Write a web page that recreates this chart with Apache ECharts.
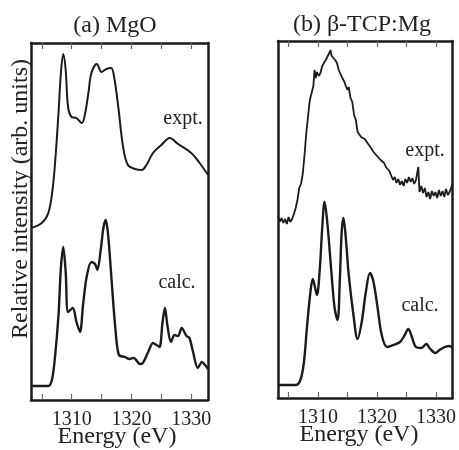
<!DOCTYPE html>
<html><head><meta charset="utf-8">
<script src="https://cdn.jsdelivr.net/npm/echarts@6/dist/echarts.min.js"></script>
<style>html,body{margin:0;padding:0;background:#fff}#c{width:459px;height:450px}</style>
</head><body><div id="c"></div>
<script>
// Energy axis (eV)
const energyMin = 1303.2;
const energyMax = 1332.8;
const tickValues = [1305, 1310, 1315, 1320, 1325, 1330];
const tickLabels = [1310, 1320, 1330];
const panelTitles = ['(a) MgO', '(b) \u03b2-TCP:Mg'];
const curveLabels = ['expt.', 'calc.'];

// (a) MgO experimental spectrum [energy, intensity (arb.)]
const mgoExpt = [
  [1303.2,172],[1305.0,177],[1306.1,187],[1306.8,210],[1307.3,243],[1307.8,287],[1308.2,327],
  [1308.6,346],[1309.0,330],[1309.4,293],[1310.0,283],[1310.8,282],[1311.7,277],[1312.2,285],
  [1312.8,307],[1313.3,327],[1314.2,336],[1315.0,328],[1315.8,331],[1316.6,332],[1317.1,323],
  [1317.8,293],[1318.6,253],[1319.4,235],[1320.6,231],[1321.7,230],[1322.5,235],[1323.6,247],
  [1325.0,255],[1326.4,262],[1327.8,256],[1330.0,247],[1331.4,237],[1332.8,225]
];
// (a) MgO calculated spectrum
const mgoCalc = [
  [1303.2,14],[1306.1,14],[1306.7,20],[1307.2,42],[1307.8,85],[1308.2,132],[1308.6,153],
  [1309.0,128],[1309.4,88],[1310.2,92],[1310.8,78],[1311.4,68],[1311.9,95],[1312.5,123],
  [1313.3,138],[1313.9,136],[1314.3,130],[1314.9,152],[1315.3,172],[1315.7,180],[1316.1,165],
  [1316.7,118],[1317.3,72],[1317.9,45],[1318.9,43],[1319.7,41],[1320.4,42],[1321.4,36],
  [1321.9,37],[1322.8,48],[1323.6,57],[1324.2,55],[1324.7,53],[1325.2,78],[1325.6,92],
  [1326.0,75],[1326.6,58],[1327.2,65],[1327.8,64],[1328.4,72],[1329.2,64],[1329.7,62],
  [1330.3,48],[1331.1,32],[1331.8,38],[1332.3,35],[1332.8,31]
];
// (b) beta-TCP:Mg experimental spectrum (noisy)
const tcpExpt = [
  [1303.2,182],[1303.5,176],[1303.8,180],[1304.1,175],[1304.4,179],[1304.7,174],[1305.0,181],
  [1305.3,176],[1305.6,179],[1305.9,184],[1306.2,190],[1306.5,198],[1306.8,210],[1307.1,214],
  [1307.4,224],[1307.7,243],[1308.0,265],[1308.3,282],[1308.6,298],[1308.9,305],[1309.2,312],
  [1309.4,328],[1309.6,320],[1309.8,326],[1310.1,322],[1310.4,325],[1310.7,332],[1311.0,334],
  [1311.3,338],[1311.6,340],[1311.9,345],[1312.1,348],[1312.3,342],[1312.6,344],[1312.9,338],
  [1313.2,335],[1313.5,328],[1313.8,324],[1314.1,320],[1314.4,317],[1314.7,312],[1315.0,308],
  [1315.2,311],[1315.5,300],[1315.8,296],[1316.1,283],[1316.4,278],[1316.7,266],[1317.0,264],
  [1317.3,261],[1317.6,263],[1317.9,259],[1318.2,261],[1318.5,254],[1318.8,252],[1319.1,249],
  [1319.4,246],[1319.7,244],[1320.0,242],[1320.3,244],[1320.6,238],[1320.9,236],[1321.2,235],
  [1321.5,231],[1321.8,232],[1322.1,227],[1322.4,229],[1322.7,218],[1323.0,221],[1323.3,215],
  [1323.6,219],[1323.9,213],[1324.2,217],[1324.5,212],[1324.8,219],[1325.1,215],[1325.4,221],
  [1325.7,216],[1326.0,220],[1326.3,214],[1326.6,218],[1326.9,216],[1327.0,231],[1327.2,206],
  [1327.5,212],[1327.8,205],[1328.1,210],[1328.4,201],[1328.7,206],[1329.0,199],[1329.3,207],
  [1329.6,202],[1329.9,206],[1330.2,200],[1330.5,208],[1330.8,202],[1331.1,207],[1331.4,201],
  [1331.7,209],[1332.0,203],[1332.3,206],[1332.6,204],[1332.8,214]
];
// (b) beta-TCP:Mg calculated spectrum
const tcpCalc = [
  [1303.2,13],[1306.2,13],[1307.0,18],[1307.6,36],[1308.1,70],[1308.7,106],[1309.1,119],
  [1309.5,110],[1309.8,103],[1310.3,130],[1310.7,170],[1311.1,196],[1311.6,173],[1312.2,130],
  [1312.8,90],[1313.3,78],[1313.7,120],[1314.0,166],[1314.3,180],[1314.7,160],[1315.2,123],
  [1316.0,83],[1316.7,59],[1317.4,76],[1318.1,106],[1318.8,125],[1319.4,116],[1320.1,90],
  [1320.8,63],[1321.7,51],[1322.8,53],[1323.9,56],[1324.7,63],[1325.3,69],[1325.8,63],
  [1326.6,51],[1327.5,50],[1328.4,54],[1328.9,50],[1329.9,45],[1330.6,48],[1331.5,51],
  [1332.3,52],[1332.8,50]
];

const F = "'Liberation Serif','DejaVu Serif','Times New Roman',serif";
const ink = '#1b1b1b';
const chart = echarts.init(document.getElementById('c'));

function xAxisDef(g, pos, withLabels) {
  return {
    gridIndex: g, type: 'value', position: pos, min: energyMin, max: energyMax,
    axisLine: { show: true, onZero: false, lineStyle: { color: ink, width: 2.5 } },
    axisTick: { show: true, inside: true, length: 6, customValues: tickValues,
                lineStyle: { color: '#666', width: 1.2 } },
    axisLabel: { show: withLabels, customValues: tickLabels, fontFamily: F, fontSize: 20,
                 color: '#222', margin: 10, formatter: function (v) { return String(v); } },
    splitLine: { show: false }
  };
}
function yAxisDef(g, pos) {
  return {
    gridIndex: g, type: 'value', position: pos, min: 0, max: 357,
    axisLine: { show: true, onZero: false, lineStyle: { color: ink, width: 2.5 } },
    axisTick: { show: false }, axisLabel: { show: false }, splitLine: { show: false }
  };
}
function lineSeries(xi, yi, data, w, smooth) {
  return { type: 'line', xAxisIndex: xi, yAxisIndex: yi, data: data, symbol: 'none',
           smooth: smooth, lineStyle: { color: ink, width: w }, animation: false };
}
function txt(x, y, s, size, rot) {
  return { type: 'text', x: x, y: y, rotation: rot || 0,
           style: { text: s, font: size + 'px ' + F, fill: '#222', align: 'center', verticalAlign: 'middle' } };
}

chart.setOption({
  animation: false,
  grid: [
    { left: 31, top: 43, width: 177, height: 357 },
    { left: 278, top: 41, width: 176, height: 357 }
  ],
  xAxis: [xAxisDef(0, 'bottom', true), xAxisDef(0, 'top', false),
          xAxisDef(1, 'bottom', true), xAxisDef(1, 'top', false)],
  yAxis: [yAxisDef(0, 'left'), yAxisDef(0, 'right'), yAxisDef(1, 'left'), yAxisDef(1, 'right')],
  series: [
    lineSeries(0, 0, mgoExpt, 2, 0.35),
    lineSeries(0, 0, mgoCalc, 2.4, 0.3),
    lineSeries(2, 2, tcpExpt, 1.8, false),
    lineSeries(2, 2, tcpCalc, 2.4, 0.35)
  ],
  graphic: [
    txt(115, 26, panelTitles[0], 24),
    txt(362, 25, panelTitles[1], 24),
    txt(21, 199, 'Relative intensity (arb. units)', 24, Math.PI / 2),
    txt(117, 437, 'Energy (eV)', 24),
    txt(359, 435, 'Energy (eV)', 24),
    txt(183, 119, curveLabels[0], 20),
    txt(177, 283, curveLabels[1], 20),
    txt(425, 151, curveLabels[0], 20),
    txt(420, 306, curveLabels[1], 20)
  ]
});
</script></body></html>
